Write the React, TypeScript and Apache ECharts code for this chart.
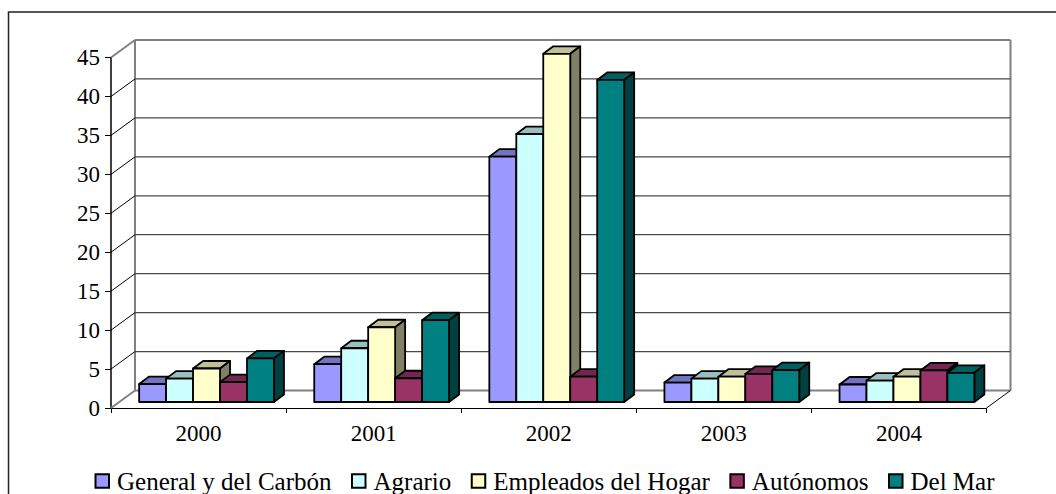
import React, { useEffect, useRef } from "react";
import * as echarts from "echarts";

const years = ["2000", "2001", "2002", "2003", "2004"];
const yTicks = [0, 5, 10, 15, 20, 25, 30, 35, 40, 45];
const general = [2.3, 4.85, 31.5, 2.5, 2.25];
const agrario = [3.0, 6.9, 34.4, 3.0, 2.75];
const hogar = [4.3, 9.6, 44.7, 3.25, 3.25];
const autonomos = [2.55, 3.05, 3.25, 3.6, 4.05];
const delMar = [5.6, 10.5, 41.35, 4.1, 3.75];

const names = ["General y del Carbón", "Agrario", "Empleados del Hogar", "Autónomos", "Del Mar"];
const values = [general, agrario, hogar, autonomos, delMar];
const fronts = ["#9999FF", "#CCFFFF", "#FFFFCC", "#993366", "#008080"];
const tops = ["#7373BF", "#99BFBF", "#BFBF99", "#732650", "#006060"];
const sides = ["#4D4D80", "#668080", "#808066", "#4D1A33", "#004040"];

const FONT = "'Liberation Serif', serif";
const WALL_DX = 24;
const WALL_DY = 17.5;
const BAR_DX = 10;
const BAR_DY = 7.5;
const BAR_SHIFT_X = 8;
const BAR_SHIFT_Y = 6;

function barRenderer(s: number) {
  return (_p: any, api: any) => {
    const cat = api.value(0);
    const v = api.value(1);
    const band = api.size([1, 0])[0];
    const bw = band * 0.154;
    const [cx, yBase] = api.coord([cat, 0]);
    const yTop = api.coord([cat, v])[1] - BAR_SHIFT_Y;
    const y0 = yBase - BAR_SHIFT_Y;
    const x0 = cx + BAR_SHIFT_X - 2.5 * bw + s * bw;
    const x1 = x0 + bw;
    const st = { stroke: "#000", lineWidth: 1.8, lineJoin: "round" };
    return {
      type: "group",
      children: [
        {
          type: "polygon",
          shape: { points: [[x0, yTop], [x0 + BAR_DX, yTop - BAR_DY], [x1 + BAR_DX, yTop - BAR_DY], [x1, yTop]] },
          style: { fill: tops[s], ...st },
        },
        {
          type: "polygon",
          shape: { points: [[x1, yTop], [x1 + BAR_DX, yTop - BAR_DY], [x1 + BAR_DX, y0 - BAR_DY], [x1, y0]] },
          style: { fill: sides[s], ...st },
        },
        {
          type: "rect",
          shape: { x: x0, y: yTop, width: bw, height: y0 - yTop },
          style: { fill: fronts[s], ...st },
        },
      ],
    };
  };
}

function wallRenderer(p: any, api: any) {
  const t = api.value(0);
  const { x, width } = p.coordSys;
  const y = api.coord([0, t])[1];
  const edge = t === 0 || t === 45;
  const children: any[] = [
    {
      type: "line",
      shape: { x1: x + WALL_DX, y1: y - WALL_DY, x2: x + width + WALL_DX, y2: y - WALL_DY },
      style: { stroke: edge ? "#808080" : "#4a4a4a", lineWidth: edge ? 2 : 1.2 },
    },
    {
      type: "line",
      shape: { x1: x, y1: y, x2: x + WALL_DX, y2: y - WALL_DY },
      style: { stroke: edge ? "#808080" : "#000", lineWidth: edge ? 2 : 1 },
    },
  ];
  if (t === 0) {
    const yTop = api.coord([0, 45])[1] - WALL_DY;
    children.push(
      { type: "line", shape: { x1: x + WALL_DX, y1: y - WALL_DY, x2: x + WALL_DX, y2: yTop }, style: { stroke: "#808080", lineWidth: 2 } },
      { type: "line", shape: { x1: x + width + WALL_DX, y1: y - WALL_DY, x2: x + width + WALL_DX, y2: yTop }, style: { stroke: "#808080", lineWidth: 2 } },
      { type: "line", shape: { x1: x + width, y1: y, x2: x + width + WALL_DX, y2: y - WALL_DY }, style: { stroke: "#000", lineWidth: 1 } }
    );
  }
  return { type: "group", children };
}

export default function App() {
  const ref = useRef<HTMLDivElement>(null);
  useEffect(() => {
    const chart = echarts.init(ref.current!, null, { renderer: "svg" });
    chart.setOption({
      animation: false,
      backgroundColor: "#fff",
      textStyle: { fontFamily: FONT },
      grid: { left: 111, top: 57.5, width: 875.5, height: 350.5, containLabel: false },
      xAxis: {
        type: "category",
        data: years,
        axisLine: { lineStyle: { color: "#000", width: 1.2 } },
        axisTick: { show: true, length: 5, lineStyle: { color: "#000", width: 1 } },
        axisLabel: { color: "#000", fontSize: 23, fontFamily: FONT, margin: 14 },
        splitLine: { show: false },
      },
      yAxis: {
        type: "value",
        min: 0,
        max: 45,
        interval: 5,
        axisLine: { show: true, lineStyle: { color: "#000", width: 1.5 } },
        axisTick: { show: true, length: 6, lineStyle: { color: "#000", width: 1 } },
        axisLabel: { color: "#000", fontSize: 23, fontFamily: FONT, margin: 11 },
        splitLine: { show: false },
      },
      legend: {
        data: names,
        left: 94.5,
        top: 468.5,
        icon: "rect",
        itemWidth: 13.5,
        itemHeight: 13.5,
        itemGap: 19.5,
        padding: 0,
        textStyle: { color: "#000", fontSize: 25, fontFamily: FONT, padding: [0, 0, 0, 3] },
      },
      graphic: [
        {
          type: "polyline",
          z: 100,
          shape: { points: [[8.5, 494], [8.5, 12], [1056, 12]] },
          style: { stroke: "#222", lineWidth: 1.5, fill: "none" },
        },
      ],
      series: [
        {
          type: "custom",
          name: "walls",
          silent: true,
          z: 1,
          renderItem: wallRenderer,
          encode: { x: -1, y: 0 },
          data: yTicks.map((t) => [t]),
        },
        ...names.map((name, s) => ({
          type: "custom",
          name,
          z: 3,
          silent: true,
          renderItem: barRenderer(s),
          encode: { x: 0, y: 1 },
          itemStyle: { color: fronts[s], borderColor: "#000", borderWidth: 1.8 },
          data: values[s].map((v, i) => [i, v]),
        })),
      ],
    });
    return () => chart.dispose();
  }, []);
  return <div ref={ref} style={{ position: "absolute", left: 0, top: 0, width: 1056, height: 494 }} />;
}
